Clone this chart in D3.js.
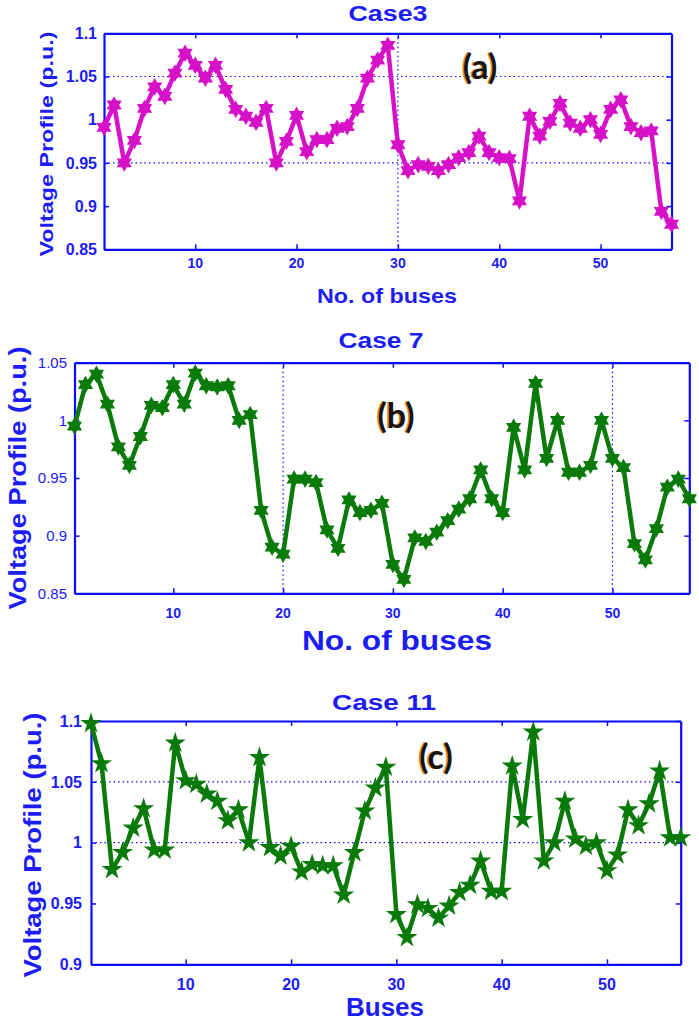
<!DOCTYPE html>
<html>
<head>
<meta charset="utf-8">
<script src="https://cdn.jsdelivr.net/npm/d3@7"></script>
<style>
  html, body { margin: 0; padding: 0; background: #ffffff; }
  svg { display: block; }
</style>
</head>
<body>
<svg id="chart" width="699" height="1023"></svg>
<script>
// ---------------- DATA ----------------
const buses = [1,2,3,4,5,6,7,8,9,10,11,12,13,14,15,16,17,18,19,20,21,22,23,24,25,26,27,28,29,30,
  31,32,33,34,35,36,37,38,39,40,41,42,43,44,45,46,47,48,49,50,51,52,53,54,55,56,57];

const case3Voltage = [0.991,1.017,0.950,0.976,1.013,1.038,1.027,1.054,1.077,1.063,
  1.048,1.063,1.035,1.012,1.004,0.997,1.013,0.950,0.975,1.005,
  0.963,0.977,0.977,0.990,0.992,1.013,1.048,1.069,1.086,0.971,
  0.941,0.948,0.946,0.941,0.948,0.956,0.962,0.981,0.962,0.956,
  0.955,0.906,1.004,0.981,0.998,1.019,0.996,0.990,1.000,0.983,
  1.012,1.023,0.992,0.985,0.987,0.894,0.879];

const case7Voltage = [0.995,1.031,1.040,1.014,0.977,0.961,0.986,1.013,1.011,1.031,
  1.014,1.041,1.030,1.029,1.030,1.000,1.005,0.922,0.890,0.884,
  0.949,0.949,0.946,0.905,0.889,0.931,0.920,0.922,0.928,0.875,
  0.862,0.898,0.895,0.903,0.913,0.923,0.932,0.957,0.932,0.920,
  0.994,0.957,1.032,0.967,1.000,0.955,0.955,0.961,1.000,0.967,
  0.959,0.893,0.879,0.906,0.942,0.949,0.932];

const case11Voltage = [1.098,1.065,0.978,0.992,1.012,1.028,0.994,0.994,1.082,1.051,
  1.048,1.040,1.034,1.018,1.027,1.000,1.070,0.996,0.989,0.997,
  0.976,0.982,0.981,0.981,0.957,0.992,1.026,1.045,1.062,0.941,
  0.922,0.949,0.946,0.938,0.948,0.959,0.965,0.985,0.960,0.960,
  1.063,1.019,1.091,0.985,1.000,1.034,1.003,0.997,1.000,0.977,
  0.990,1.027,1.014,1.032,1.059,1.004,1.004];

const xTicks = [10,20,30,40,50];
const yTicksA = [0.85,0.9,0.95,1.0,1.05,1.1];
const yTicksB = [0.85,0.9,0.95,1.0,1.05];
const yTicksC = [0.9,0.95,1.0,1.05,1.1];
const yTickLabelsA = ["0.85","0.9","0.95","1","1.05","1.1"];
const yTickLabelsB = ["0.85","0.9","0.95","1","1.05"];
const yTickLabelsC = ["0.9","0.95","1","1.05","1.1"];

const titles = ["Case3","Case 7","Case 11"];
const xLabels = ["No. of buses","No. of buses","Buses"];
const yLabel = "Voltage Profile (p.u.)";
const panelTags = ["(a)","(b)","(c)"];

// grid lines shown in each panel
const hGridA = [0.95,1.05], vGridA = [30];
const hGridB = [],           vGridB = [20,50];
const hGridC = [1.0,1.05],   vGridC = [];

// ---------------- STYLE / LAYOUT ----------------
const BLUE = "#0a0aff";
const TXT = "#1c1cf5";
const MAGENTA = "#d611c8";
const GREEN = "#0a7a0a";
const FONT = "'Liberation Sans', Arial, sans-serif";

const hexagram = {
  draw(ctx, size) {
    const R = Math.sqrt(size), ri = R / Math.sqrt(3);
    for (let k = 0; k < 12; k++) {
      const a = -Math.PI / 2 + k * Math.PI / 6;
      const rr = k % 2 ? ri : R;
      const x = rr * Math.cos(a), y = rr * Math.sin(a);
      if (k === 0) ctx.moveTo(x, y); else ctx.lineTo(x, y);
    }
    ctx.closePath();
  }
};

const panels = [
  { values: case3Voltage, color: MAGENTA, marker: hexagram, msize: 46,
    x0: 104, x1: 671.5, y0: 33.3, y1: 249.3, ydom: [0.85, 1.1],
    yTicks: yTicksA, yLabels: yTickLabelsA, hGrid: hGridA, vGrid: vGridA,
    yTickFont: "bold 16px", yTickRight: 97, xTickBase: 268, xTickFont: "bold 14px",
    title: {x: 388, y: 21, size: 22, len: 79},
    xlab: {x: 387, y: 303, size: 21, len: 140},
    ylab: {x: 46, y: 144, size: 19, len: 225},
    tag: {x: 480, y: 79, size: 34} },
  { values: case7Voltage, color: GREEN, marker: hexagram, msize: 46,
    x0: 74.5, x1: 689.3, y0: 362.7, y1: 593.3, ydom: [0.85, 1.05],
    yTicks: yTicksB, yLabels: yTickLabelsB, hGrid: hGridB, vGrid: vGridB,
    yTickFont: "15px", yTickRight: 67, xTickBase: 618, xTickFont: "bold 14px",
    title: {x: 381, y: 348, size: 22, len: 85},
    xlab: {x: 397, y: 650, size: 27, len: 190},
    ylab: {x: 18, y: 478, size: 23, len: 263},
    tag: {x: 396, y: 428, size: 34} },
  { values: case11Voltage, color: GREEN, marker: d3.symbolStar, msize: 70,
    x0: 91, x1: 680.7, y0: 721, y1: 964.3, ydom: [0.9, 1.1],
    yTicks: yTicksC, yLabels: yTickLabelsC, hGrid: hGridC, vGrid: vGridC,
    yTickFont: "bold 16px", yTickRight: 82, xTickBase: 990, xTickFont: "bold 16px",
    title: {x: 384, y: 710, size: 22, len: 104},
    xlab: {x: 385, y: 1016, size: 26, len: 78},
    ylab: {x: 33, y: 845, size: 23, len: 265},
    tag: {x: 436, y: 769, size: 34} }
];

const svg = d3.select("#chart");

panels.forEach((p, i) => {
  const x = d3.scaleLinear().domain([1, 57]).range([p.x0, p.x1]);
  const y = d3.scaleLinear().domain(p.ydom).range([p.y1, p.y0]);
  const g = svg.append("g");

  // grid
  g.selectAll(null).data(p.hGrid).enter().append("line")
    .attr("x1", p.x0).attr("x2", p.x1)
    .attr("y1", d => y(d)).attr("y2", d => y(d))
    .attr("stroke", BLUE).attr("stroke-width", 1.2).attr("stroke-dasharray", "1.5,3");
  g.selectAll(null).data(p.vGrid).enter().append("line")
    .attr("y1", p.y0).attr("y2", p.y1)
    .attr("x1", d => x(d)).attr("x2", d => x(d))
    .attr("stroke", BLUE).attr("stroke-width", 1.2).attr("stroke-dasharray", "1.5,3");

  // axes (ticks inward, box)
  const tl = 5;
  const bottom = g.append("g").attr("transform", `translate(0,${p.y1})`)
    .call(d3.axisBottom(x).tickValues(xTicks).tickSizeInner(-tl).tickSizeOuter(0).tickFormat(""));
  const top = g.append("g").attr("transform", `translate(0,${p.y0})`)
    .call(d3.axisTop(x).tickValues(xTicks).tickSizeInner(-tl).tickSizeOuter(0).tickFormat(""));
  const left = g.append("g").attr("transform", `translate(${p.x0},0)`)
    .call(d3.axisLeft(y).tickValues(p.yTicks).tickSizeInner(-tl).tickSizeOuter(0).tickFormat(""));
  const right = g.append("g").attr("transform", `translate(${p.x1},0)`)
    .call(d3.axisRight(y).tickValues(p.yTicks).tickSizeInner(-tl).tickSizeOuter(0).tickFormat(""));
  [bottom, top, left, right].forEach(a => {
    a.select(".domain").attr("stroke", BLUE).attr("stroke-width", 2.2);
    a.selectAll(".tick line").attr("stroke", BLUE).attr("stroke-width", 1.5);
  });

  // tick labels
  g.selectAll(null).data(xTicks).enter().append("text")
    .attr("x", d => x(d)).attr("y", p.xTickBase)
    .attr("text-anchor", "middle")
    .style("font", `${p.xTickFont} ${FONT}`).attr("fill", TXT)
    .text(d => d);
  g.selectAll(null).data(p.yTicks).enter().append("text")
    .attr("x", p.yTickRight).attr("y", d => y(d))
    .attr("dy", "0.36em").attr("text-anchor", "end")
    .style("font", `${p.yTickFont} ${FONT}`).attr("fill", TXT)
    .text((d, k) => p.yLabels[k]);

  // line + markers
  const line = d3.line().x((d, k) => x(buses[k])).y(d => y(d));
  g.append("path").datum(p.values)
    .attr("d", line).attr("fill", "none")
    .attr("stroke", p.color).attr("stroke-width", 4.5).attr("stroke-linejoin", "round");
  const sym = d3.symbol().type(p.marker).size(p.msize);
  g.selectAll(null).data(p.values).enter().append("path")
    .attr("transform", (d, k) => `translate(${x(buses[k])},${y(d)})`)
    .attr("d", sym).attr("fill", p.color)
    .attr("stroke", p.color).attr("stroke-width", 2).attr("stroke-linejoin", "miter");

  // titles & labels
  const txt = (o, s, rot) => {
    const t = g.append("text")
      .attr("text-anchor", "middle")
      .attr("font-family", FONT).attr("font-weight", "bold")
      .attr("font-size", o.size).attr("fill", TXT)
      .attr("textLength", o.len).attr("lengthAdjust", "spacingAndGlyphs")
      .text(s);
    if (rot) t.attr("transform", `translate(${o.x},${o.y}) rotate(-90)`).attr("dy", "0.35em");
    else t.attr("x", o.x).attr("y", o.y);
  };
  txt(p.title, titles[i]);
  txt(p.xlab, xLabels[i]);
  txt(p.ylab, yLabel, true);

  // panel tag with slight orange fringe
  g.append("text").attr("x", p.tag.x - 1.5).attr("y", p.tag.y)
    .attr("text-anchor", "middle").attr("font-family", "Lato, 'Open Sans', sans-serif")
    .attr("font-weight", "bold").attr("font-size", p.tag.size)
    .attr("fill", "#e0871c").text(panelTags[i]);
  g.append("text").attr("x", p.tag.x).attr("y", p.tag.y)
    .attr("text-anchor", "middle").attr("font-family", "Lato, 'Open Sans', sans-serif")
    .attr("font-weight", "bold").attr("font-size", p.tag.size)
    .attr("fill", "#141414").text(panelTags[i]);
});
</script>
</body>
</html>
